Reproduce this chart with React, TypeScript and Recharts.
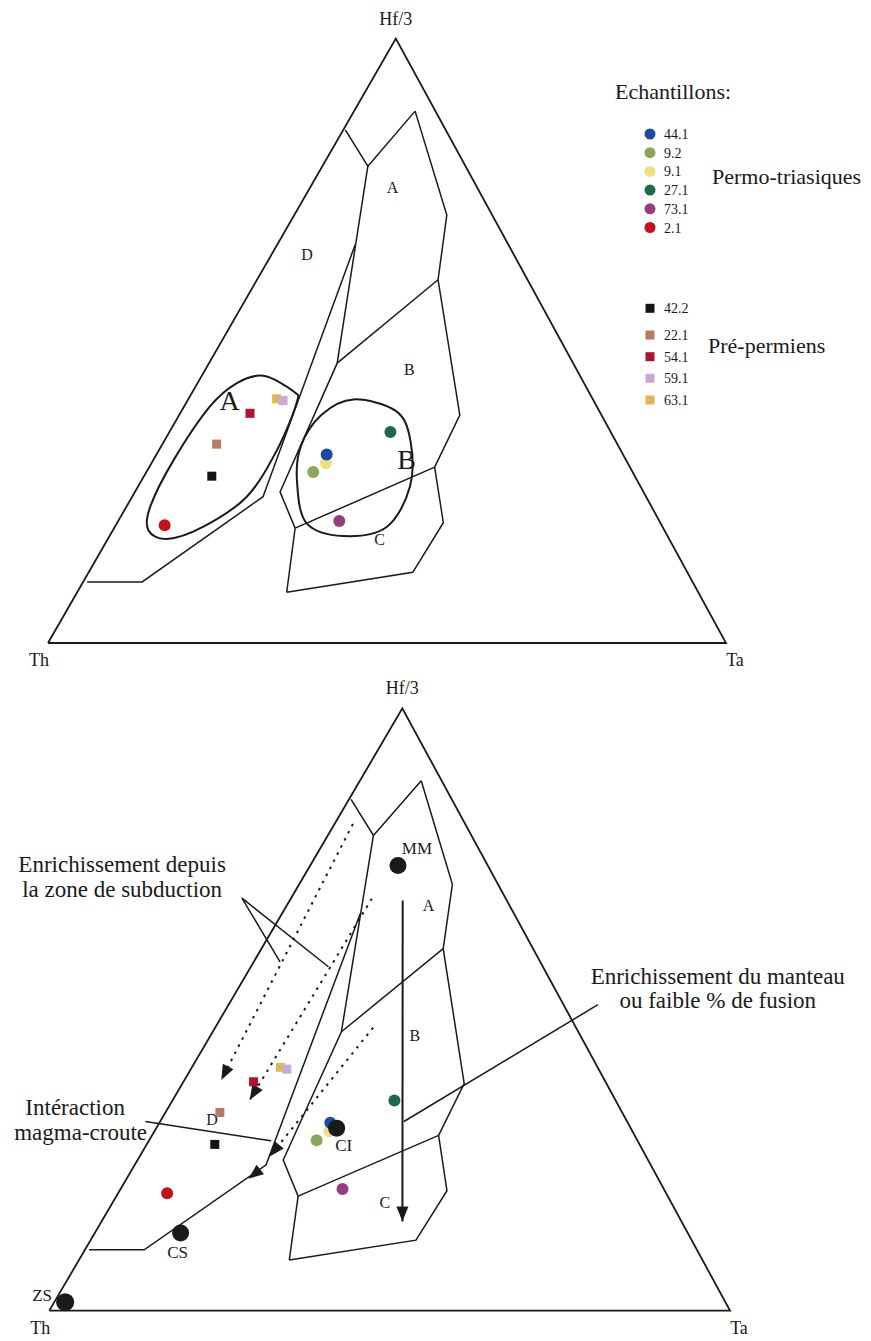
import React from 'react'
import { ScatterChart, Scatter, XAxis, YAxis, Legend } from 'recharts'

const SERIF = '"Liberation Serif", "Times New Roman", serif'
const INK = '#1a1a1a'
const PAGE_W = 871

// ternary points: [Hf/3 %, Ta %], Th = 100 - Hf/3 - Ta
type Tern = [number, number]
type Pt = { x: number; y: number }
type Geom = { left: number; baseY: number; width: number; height: number; apex: number; h: number }

const CORNERS = ['Th', 'Ta', 'Hf/3']
const TRIANGLE: Tern[] = [[0, 0], [0, 100], [100, 0], [0, 0]]

// Wood (1980) fields
const FORK: Tern[] = [[84.9, 0.3], [78.9, 6.7], [88.0, 9.0]]
const A_RIGHT: Tern[] = [[88.0, 9.0], [70.8, 22.5], [60.1, 26.7], [37.7, 41.4], [29.1, 42.1]]
const AB_LIMIT: Tern[] = [[60.1, 26.7], [46.3, 18.9]]
const CENTRAL: Tern[] = [[78.9, 6.7], [46.3, 18.9], [25.0, 21.4], [19.0, 26.7], [8.4, 30.9]]
const BC_LIMIT: Tern[] = [[19.0, 26.7], [29.1, 42.1]]
const C_BASE: Tern[] = [[8.4, 30.9], [11.7, 47.8], [19.9, 48.1], [29.1, 42.1]]
const D_LIMIT: Tern[] = [[65.9, 11.5], [24.2, 19.3], [10.1, 8.7], [10.1, 0.6]]
const FIELD_LINES = [FORK, A_RIGHT, AB_LIMIT, CENTRAL, BC_LIMIT, C_BASE, D_LIMIT]

// groups circled on the upper diagram
const GROUP_A: Tern[] = [
  [44.2, 9.1], [41.6, 14.9], [39.7, 16.3], [31.9, 17.4], [24.2, 16.9], [19.2, 13.0],
  [17.2, 8.7], [18.7, 5.2], [22.6, 3.5], [30.3, 3.0], [39.1, 3.8], [43.0, 5.8],
]
const GROUP_B: Tern[] = [
  [40.3, 24.4], [38.4, 31.6], [33.6, 36.2], [25.9, 40.1], [19.2, 40.1],
  [17.7, 34.5], [19.8, 28.0], [26.4, 23.2], [32.5, 20.6], [37.8, 21.0],
]

// samples
const PERMO_IDS = ['44.1', '9.2', '9.1', '27.1', '73.1', '2.1']
const PERMO_HF = [31.2, 28.3, 29.8, 34.9, 20.2, 19.5]
const PERMO_TA = [25.1, 24.6, 25.7, 32.6, 32.6, 7.2]
const PERMO_COLORS = ['#1f4aa3', '#8ba65c', '#efe07a', '#1c6a4b', '#953e7e', '#c2121c']

const PRE_IDS = ['42.2', '22.1', '54.1', '59.1', '63.1']
const PRE_HF = [27.6, 32.9, 38.0, 40.1, 40.4]
const PRE_TA = [10.0, 8.0, 10.3, 14.1, 13.0]
const PRE_COLORS = ['#151515', '#b77b62', '#b3122f', '#c8a8d8', '#e0b752']

// reference compositions (lower diagram)
const REF_IDS = ['MM', 'CI', 'CS', 'ZS']
const REF_HF = [73.9, 30.3, 12.9, 1.4]
const REF_TA = [12.9, 26.5, 12.6, 1.6]

// trends: start -> tip
const TREND_SOLID: Tern[] = [[68.1, 16.6], [14.8, 44.2]]
const TREND_DOTTED: Tern[][] = [
  [[80.8, 2.7], [38.3, 5.4]],
  [[68.4, 11.9], [35.0, 11.3]],
  [[47.0, 23.2], [25.6, 19.1]],
]
const CRUST_TREND: Tern[] = [[24.2, 19.3], [21.9, 17.9]]

// annotation leaders, diagram x/y %
const LEADERS: [number, number][][] = [
  [[33.9, 57.9], [28.3, 68.5], [41.0, 57.1]],
  [[14.1, 31.4], [32.6, 28.2]],
  [[52.1, 31.4], [80.6, 50.8]],
]

const NOTES = [
  { x: 10.7, y: 72.9, text: 'Enrichissement depuis' },
  { x: 10.7, y: 68.7, text: 'la zone de subduction' },
  { x: 3.8, y: 32.4, text: 'Intéraction' },
  { x: 4.6, y: 28.3, text: 'magma-croute' },
  { x: 98.2, y: 54.3, text: 'Enrichissement du manteau' },
  { x: 98.2, y: 50.2, text: 'ou faible % de fusion' },
]

const TOP_FIELD_LABELS = [
  { x: 38.2, y: 64.2, text: 'D' },
  { x: 50.8, y: 75.4, text: 'A' },
  { x: 53.3, y: 45.2, text: 'B' },
  { x: 48.9, y: 17.2, text: 'C' },
]
const TOP_GROUP_LABELS = [
  { x: 26.8, y: 40.2, text: 'A' },
  { x: 52.9, y: 30.4, text: 'B' },
]
const BOTTOM_FIELD_LABELS = [
  { x: 55.7, y: 67.3, text: 'A' },
  { x: 53.7, y: 45.7, text: 'B' },
  { x: 49.3, y: 17.9, text: 'C' },
  { x: 23.9, y: 31.7, text: 'D' },
]

// layout
const TOP: Geom = { left: 48, baseY: 643, width: 678, height: 604.4, apex: 0.513, h: 670 }
const BOTTOM: Geom = { left: 49.3, baseY: 640.6, width: 680.7, height: 602.2, apex: 0.5186, h: 671 }
const CORNER_OFFSETS: Record<string, [number, number]> = { Th: [-9, 23], Ta: [9, 23], 'Hf/3': [0, -14] }
const REF_OFFSETS: Record<string, [number, number]> = { MM: [19, -12], CI: [7, 23], CS: [-3, 25], ZS: [-23, -1] }

const tern = (g: Geom, [hf, ta]: Tern): Pt => ({ x: ta + hf * g.apex, y: hf })
const xDomain = (g: Geom) => [-g.left / (g.width / 100), (PAGE_W - g.left) / (g.width / 100)]
const yDomain = (g: Geom) => [-(g.h - g.baseY) / (g.height / 100), g.baseY / (g.height / 100)]

// closed catmull-rom curve for the hand drawn group outlines
const smoothClosed = (ctx: any) => {
  let pts: [number, number][] = []
  return {
    areaStart() {},
    areaEnd() {},
    lineStart() {
      pts = []
    },
    point(x: number, y: number) {
      pts.push([x, y])
    },
    lineEnd() {
      const n = pts.length
      if (!n) return
      ctx.moveTo(pts[0][0], pts[0][1])
      for (let i = 0; i < n; i++) {
        const p0 = pts[(i - 1 + n) % n]
        const p1 = pts[i]
        const p2 = pts[(i + 1) % n]
        const p3 = pts[(i + 2) % n]
        ctx.bezierCurveTo(
          p1[0] + (p2[0] - p0[0]) / 6,
          p1[1] + (p2[1] - p0[1]) / 6,
          p2[0] - (p3[0] - p1[0]) / 6,
          p2[1] - (p3[1] - p1[1]) / 6,
          p2[0],
          p2[1]
        )
      }
      ctx.closePath()
    },
  }
}

const noDot = () => <g />

const textShape = (size: number, dy = 0, anchor = 'middle') => (p: any) => (
  <text
    x={p.cx + (p.payload.dx ?? 0)}
    y={p.cy + (p.payload.dy ?? 0)}
    dy={dy}
    fontSize={size}
    textAnchor={anchor}
    fontFamily={SERIF}
    fill={INK}
  >
    {p.payload.text}
  </text>
)

const circleShape = (r: number) => (p: any) => (
  <circle cx={p.cx} cy={p.cy} r={p.payload.r ?? r} fill={p.payload.color ?? INK} />
)
const squareShape = (s: number) => (p: any) => (
  <rect x={p.cx - s / 2} y={p.cy - s / 2} width={s} height={s} fill={p.payload.color} />
)

const arrowShape = (g: Geom) => (p: any) => {
  const { cx, cy, payload } = p
  const ang = Math.atan2(-(payload.y - payload.by) * (g.height / 100), (payload.x - payload.bx) * (g.width / 100))
  const ux = Math.cos(ang)
  const uy = Math.sin(ang)
  const L = 15
  const W = 6
  const bx = cx - ux * L
  const by = cy - uy * L
  return <polygon points={`${cx},${cy} ${bx - uy * W},${by + ux * W} ${bx + uy * W},${by - ux * W}`} fill={INK} />
}

function line(key: string, data: Pt[], style: any = {}, joint: any = 'linear') {
  return (
    <Scatter
      key={key}
      data={data}
      shape={noDot}
      line={{ stroke: INK, strokeWidth: 1.5, fill: 'none', ...style }}
      lineJointType={joint}
      legendType="none"
      isAnimationActive={false}
    />
  )
}

function texts(key: string, data: any[], shape: any) {
  return <Scatter key={key} data={data} shape={shape} legendType="none" isAnimationActive={false} />
}

function baseLayers(g: Geom) {
  const corners = CORNERS.map((text, i) => ({
    ...tern(g, TRIANGLE[i]),
    text,
    dx: CORNER_OFFSETS[text][0],
    dy: CORNER_OFFSETS[text][1],
  }))
  return [
    line('tri', TRIANGLE.map((t) => tern(g, t)), { strokeWidth: 1.8 }),
    ...FIELD_LINES.map((f, i) => line(`f${i}`, f.map((t) => tern(g, t)))),
    texts('corners', corners, textShape(18)),
  ]
}

function sampleLayers(g: Geom, preSize: number) {
  const permo = PERMO_IDS.map((id, i) => ({ ...tern(g, [PERMO_HF[i], PERMO_TA[i]]), id, color: PERMO_COLORS[i] })).reverse()
  const pre = PRE_IDS.map((id, i) => ({ ...tern(g, [PRE_HF[i], PRE_TA[i]]), id, color: PRE_COLORS[i] })).reverse()
  return [
    <Scatter key="pre" data={pre} shape={squareShape(preSize)} legendType="none" isAnimationActive={false} />,
    <Scatter key="permo" data={permo} shape={circleShape(6)} legendType="none" isAnimationActive={false} />,
  ]
}

const PERMO_ROWS = [64, 82.7, 101.4, 120.1, 138.8, 157.5]
const PRE_ROWS = [238.3, 265, 286.7, 308.3, 330]

function SampleLegend() {
  return (
    <svg width={271} height={350} style={{ display: 'block', fontFamily: SERIF }}>
      <text x={15} y={29} fontSize={22} fill={INK}>
        Echantillons:
      </text>
      {PERMO_IDS.map((id, i) => (
        <g key={id}>
          <circle cx={50} cy={PERMO_ROWS[i]} r={5.5} fill={PERMO_COLORS[i]} />
          <text x={64} y={PERMO_ROWS[i] + 5} fontSize={14} fill={INK}>
            {id}
          </text>
        </g>
      ))}
      <text x={112} y={114} fontSize={22} fill={INK}>
        Permo-triasiques
      </text>
      {PRE_IDS.map((id, i) => (
        <g key={id}>
          <rect x={45.5} y={PRE_ROWS[i] - 4.5} width={9} height={9} fill={PRE_COLORS[i]} />
          <text x={64} y={PRE_ROWS[i] + 5} fontSize={14} fill={INK}>
            {id}
          </text>
        </g>
      ))}
      <text x={108} y={283} fontSize={22} fill={INK}>
        Pré-permiens
      </text>
    </svg>
  )
}

function axes(g: Geom) {
  return [
    <XAxis key="x" type="number" dataKey="x" domain={xDomain(g)} hide allowDataOverflow />,
    <YAxis key="y" type="number" dataKey="y" domain={yDomain(g)} hide allowDataOverflow />,
  ]
}

function TopDiagram() {
  const g = TOP
  return (
    <ScatterChart width={PAGE_W} height={g.h} margin={{ top: 0, right: 0, bottom: 0, left: 0 }}>
      {axes(g)}
      {baseLayers(g)}
      {line('grpA', GROUP_A.map((t) => tern(g, t)), { strokeWidth: 2 }, smoothClosed)}
      {line('grpB', GROUP_B.map((t) => tern(g, t)), { strokeWidth: 2 }, smoothClosed)}
      {texts('fields', TOP_FIELD_LABELS, textShape(16, 5.5))}
      {texts('groups', TOP_GROUP_LABELS, textShape(28, 9.5))}
      {sampleLayers(g, 9)}
      <Legend
        layout="vertical"
        align="center"
        verticalAlign="middle"
        content={<SampleLegend />}
        wrapperStyle={{ left: 600, top: 70, width: 271, height: 350 }}
      />
    </ScatterChart>
  )
}

function BottomDiagram() {
  const g = BOTTOM
  const arrows = [TREND_SOLID, ...TREND_DOTTED, CRUST_TREND].map((a) => {
    const back = tern(g, a[0])
    const tip = tern(g, a[1])
    return { ...tip, bx: back.x, by: back.y }
  })
  const refs = REF_IDS.map((id, i) => ({ ...tern(g, [REF_HF[i], REF_TA[i]]), id, r: id === 'ZS' ? 9 : 8.5 }))
  const refLabels = refs.map((r) => ({ x: r.x, y: r.y, text: r.id, dx: REF_OFFSETS[r.id][0], dy: REF_OFFSETS[r.id][1] }))
  return (
    <ScatterChart width={PAGE_W} height={g.h} margin={{ top: 0, right: 0, bottom: 0, left: 0 }}>
      {axes(g)}
      {baseLayers(g)}
      {TREND_DOTTED.map((a, i) =>
        line(`dot${i}`, a.map((t) => tern(g, t)), { strokeWidth: 2, strokeDasharray: '2.5 5.5' })
      )}
      {line('solid', TREND_SOLID.map((t) => tern(g, t)), { strokeWidth: 2 })}
      {LEADERS.map((l, i) => line(`lead${i}`, l.map(([x, y]) => ({ x, y })), { strokeWidth: 1.5 }))}
      <Scatter key="heads" data={arrows} shape={arrowShape(g)} legendType="none" isAnimationActive={false} />
      {texts('fields', BOTTOM_FIELD_LABELS, textShape(16, 5.5))}
      {texts('notes', NOTES, textShape(23))}
      {sampleLayers(g, 9)}
      <Scatter key="refs" data={refs} shape={circleShape(8.5)} legendType="none" isAnimationActive={false} />
      {texts('refLabels', refLabels, textShape(17))}
    </ScatterChart>
  )
}

export default function App() {
  return (
    <div style={{ position: 'absolute', left: 0, top: 0, width: PAGE_W, background: '#fff', fontFamily: SERIF }}>
      <TopDiagram />
      <BottomDiagram />
    </div>
  )
}
